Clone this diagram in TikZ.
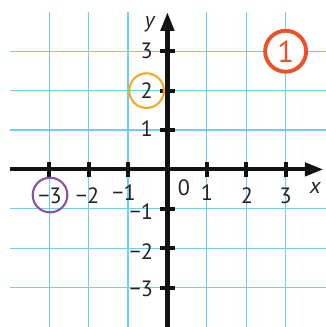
\documentclass[tikz,border=0pt]{standalone}
\usepackage{fontspec}
\setmainfont{PT Sans}
\usetikzlibrary{arrows.meta}
\definecolor{gridblue}{RGB}{110,205,245}
\definecolor{txtgray}{RGB}{35,35,35}
\definecolor{redc}{RGB}{236,82,40}
\definecolor{orangec}{RGB}{246,168,34}
\definecolor{purplec}{RGB}{135,82,160}
\begin{document}
\begin{tikzpicture}[x=1cm,y=1cm,
  gridline/.style={gridblue,line width=0.9pt},
  axisline/.style={txtgray!50!black,line width=3pt,-{Triangle[length=13.5pt,width=9.5pt]}},
  tickmark/.style={txtgray!50!black,line width=2.8pt},
  lab/.style={text=txtgray,font=\fontsize{16}{18}\selectfont,inner sep=0pt},
  ring/.style={circle,minimum size=0.88cm,inner sep=0pt,line width=1.5pt}]
\useasboundingbox (-4.25,-4.0) rectangle (4.02,4.30);
% grid
\foreach \k in {-3,-2,-1,1,2,3} {
  \draw[gridline] (\k,-4.0) -- (\k,4.0);
  \draw[gridline] (-4.0,\k) -- (4.02,\k);
}
% axes
\coordinate (xs) at (-4.0,0);
\coordinate (xe) at (3.96,0);
\coordinate (ys) at (0,-4.0);
\coordinate (ye) at (0,3.99);
\draw[axisline] (xs) -- (xe);
\draw[axisline] (ys) -- (ye);
% ticks
\foreach \k in {-3,-2,-1,1,2,3} {
  \draw[tickmark] (\k,-0.2) -- (\k,0.2);
  \draw[tickmark] (-0.2,\k) -- (0.2,\k);
}
% y labels
\node[lab] (y3) at (-0.53,3) {3};
\node[lab] (y2) at (-0.53,2) {2};
\node[lab] (y1) at (-0.53,1.03) {1};
\node[lab,anchor=east] (ym1) at (-0.36,-1.08) {−1};
\node[lab,anchor=east] (ym2) at (-0.36,-2.08) {−2};
\node[lab,anchor=east] (ym3) at (-0.36,-3.03) {−3};
\node[lab] (ylab) at (-0.45,3.68) {\itshape y};
% x labels
\node[lab] (xm3) at (-2.98,-0.67) {−3};
\node[lab] (xm2) at (-2.03,-0.67) {−2};
\node[lab] (xm1) at (-1.1,-0.6) {−1};
\node[lab] (x0) at (0.42,-0.46) {0};
\node[lab] (x1) at (1.0,-0.6) {1};
\node[lab] (x2) at (2.02,-0.67) {2};
\node[lab] (x3) at (3.0,-0.67) {3};
\node[lab] (xlab) at (3.75,-0.47) {\itshape x};
% rings
\node[ring,draw=orangec] (ro) at (-0.53,2.0) {};
\node[ring,draw=purplec] (rp) at (-2.98,-0.65) {};
\node[circle,draw=redc,fill=white,line width=2.8pt,minimum size=1.04cm,inner sep=0pt,
  text=redc,font=\fontsize{22}{26}\selectfont] (num) at (3.0,3.0) {1};
\end{tikzpicture}
\end{document}
